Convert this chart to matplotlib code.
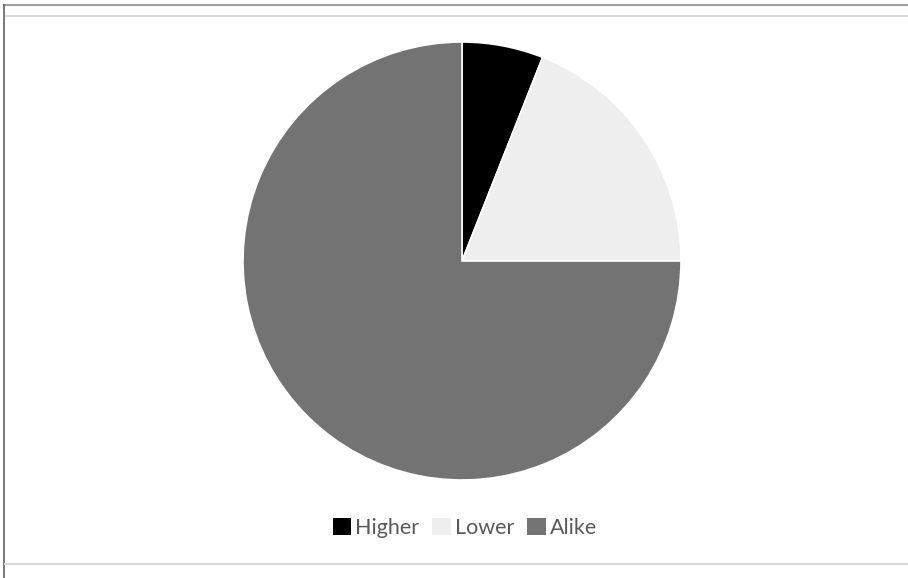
import matplotlib.pyplot as plt
from matplotlib.lines import Line2D
from matplotlib.patches import Patch

# share of answers
labels = ["Higher", "Lower", "Alike"]
values = [6, 19, 75]
colors = ["#000000", "#eeeeee", "#737373"]

W, H = 908, 578
fig = plt.figure(figsize=(W / 100, H / 100), dpi=100)
fig.patch.set_facecolor("white")

# frame lines around the chart area
fig.add_artist(Line2D([4 / W, 1], [1 - 5 / H, 1 - 5 / H], color="#a0a0a0", lw=1.5))
fig.add_artist(Line2D([5 / W, 1], [1 - 16 / H, 1 - 16 / H], color="#d9d9d9", lw=1.5))
fig.add_artist(Line2D([4 / W, 4 / W], [0, 1 - 5 / H], color="#606060", lw=1.2))
fig.add_artist(Line2D([5 / W, 1], [1 - 564 / H, 1 - 564 / H], color="#d9d9d9", lw=1.5))

# pie axes
cx, cy, r = 462, 261, 219
ax = fig.add_axes([(cx - r) / W, 1 - (cy + r) / H, 2 * r / W, 2 * r / H])
ax.pie(values, colors=colors, startangle=90, counterclock=False,
       wedgeprops=dict(edgecolor="white", linewidth=1.2))
ax.set_xlim(-1, 1)
ax.set_ylim(-1, 1)
ax.set_aspect("equal")
ax.axis("off")

handles = [Patch(facecolor=c, edgecolor="none") for c in colors]
fig.legend(handles, labels, loc="center", bbox_to_anchor=(465 / W, 1 - 528 / H),
           ncol=3, frameon=False, handlelength=0.85, handleheight=0.85,
           handletextpad=0.2, columnspacing=0.6,
           prop={"family": ["Lato", "DejaVu Sans"], "size": 15.5},
           labelcolor="#595959")

fig.savefig("out.png", dpi=100, facecolor="white")
